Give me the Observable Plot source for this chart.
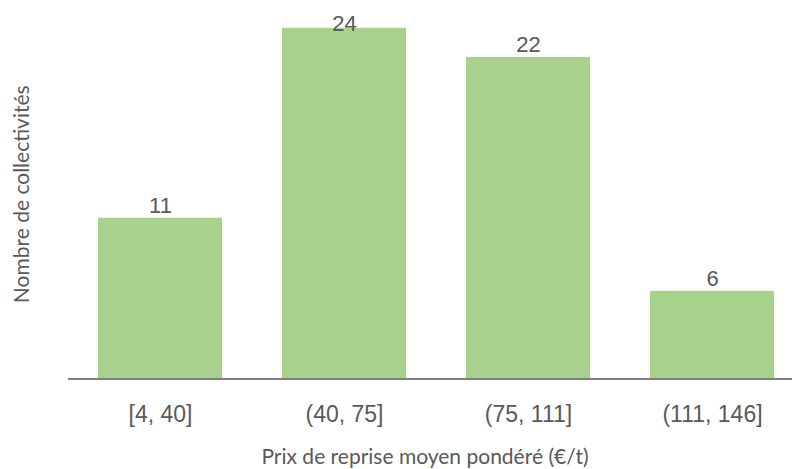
<!DOCTYPE html>
<html>
<head>
<meta charset="utf-8">
<script src="https://cdn.jsdelivr.net/npm/d3@7"></script>
<script src="https://cdn.jsdelivr.net/npm/@observablehq/plot@0.6"></script>
<style>
  html, body { margin: 0; padding: 0; background: #ffffff; }
  #chart svg { display: block; }
</style>
</head>
<body>
<div id="chart"></div>
<script>
// Categories (price bins, €/t) and number of collectivities in each bin
const bins = ["[4, 40]", "(40, 75]", "(75, 111]", "(111, 146]"];
const counts = [11, 24, 22, 6];
const xTitle = "Prix de reprise moyen pondéré (€/t)";
const yTitle = "Nombre de collectivités";
// highest position at which a value label may sit (labels stay inside the plot area, as in the source)
const labelMax = 23.5;

const data = bins.map((b, i) => ({bin: b, count: counts[i]}));

const textGray = "#595959";
const titleFont = "Lato, 'Open Sans', sans-serif";

const chart = Plot.plot({
  width: 792,
  height: 469,
  marginTop: 0,
  marginLeft: 68,
  marginRight: 0,
  marginBottom: 90.5,
  style: {fontFamily: "'Liberation Sans', Arial, sans-serif", color: textGray, background: "#ffffff", overflow: "visible"},
  x: {domain: bins, paddingInner: 0.326, paddingOuter: 0.13, align: 0.625, axis: null},
  y: {domain: [0, 25.9], axis: null},
  marks: [
    Plot.barY(data, {x: "bin", y: "count", fill: "#a9d18e"}),
    Plot.ruleY([0], {stroke: "#7f7f7f", strokeWidth: 2}),
    Plot.text(data, {
      x: "bin",
      y: d => Math.min(d.count, labelMax),
      text: d => String(d.count),
      lineAnchor: "bottom",
      dy: -5,
      fontSize: 22,
      fill: textGray
    }),
    Plot.axisX({tickSize: 0, tickPadding: 26.5, fontSize: 23, color: textGray, label: null}),
    Plot.text([xTitle], {
      frameAnchor: "bottom",
      textAnchor: "middle",
      lineAnchor: "bottom",
      dy: 84.5,
      dx: -5.5,
      fontSize: 21,
      fontFamily: titleFont,
      fill: textGray
    }),
    Plot.text([yTitle], {
      frameAnchor: "left",
      textAnchor: "middle",
      rotate: -90,
      lineAnchor: "bottom",
      dx: -40,
      dy: 4.5,
      fontSize: 21,
      fontFamily: titleFont,
      fill: textGray
    })
  ]
});

document.getElementById("chart").appendChild(chart);
</script>
</body>
</html>
